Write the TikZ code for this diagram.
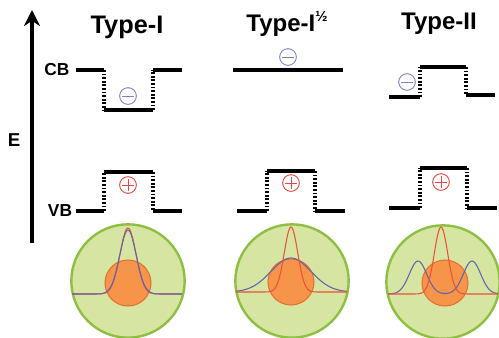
\documentclass[tikz,border=0pt]{standalone}
\usepackage{fontspec}
\setmainfont{Liberation Sans}
\usetikzlibrary{arrows.meta}

\definecolor{shellfill}{RGB}{214,230,162}
\definecolor{shelledge}{RGB}{141,192,66}
\definecolor{corefill}{RGB}{246,148,74}
\definecolor{coreedge}{RGB}{230,112,52}
\definecolor{elblue}{RGB}{128,128,196}
\definecolor{hlred}{RGB}{226,70,60}
\definecolor{wfblue}{RGB}{98,100,172}
\definecolor{wfred}{RGB}{232,84,56}

\begin{document}
\begin{tikzpicture}[
    x=0.75pt, y=-0.75pt,
    title/.style={font=\fontsize{18}{20}\selectfont\bfseries},
    label/.style={font=\fontsize{13}{15}\selectfont\bfseries, inner sep=0pt},
    band/.style={line width=3pt},
    wall/.style={line width=2.3pt, dash pattern=on 1.4pt off 1.3pt},
    electron/.style={circle, draw=elblue, line width=0.7pt, minimum size=12.5pt, inner sep=0pt,
        path picture={\draw[elblue, line width=0.7pt] ([xshift=-4.2pt]path picture bounding box.center) -- ([xshift=4.2pt]path picture bounding box.center);}},
    hole/.style={circle, draw=hlred, line width=0.7pt, minimum size=12.5pt, inner sep=0pt,
        path picture={\draw[hlred, line width=0.7pt] ([xshift=-4.2pt]path picture bounding box.center) -- ([xshift=4.2pt]path picture bounding box.center)
            ([yshift=-4.2pt]path picture bounding box.center) -- ([yshift=4.2pt]path picture bounding box.center);}},
    shell/.style={circle, fill=shellfill, draw=shelledge, line width=1.8pt, minimum size=85pt, inner sep=0pt},
    core/.style={circle, fill=corefill, draw=coreedge, line width=0.8pt, minimum size=34.5pt, inner sep=0pt},
    redwf/.style={wfred, line width=0.8pt},
    bluewf/.style={wfblue, line width=0.8pt}
]
\useasboundingbox (0,0) rectangle (499,337);

% Energy axis
\coordinate (ebot) at (32,243);
\coordinate (etop) at (32,10);
\draw[line width=3pt, -{Stealth[length=12pt, width=12pt]}] (ebot) -- (etop);
\node[font=\fontsize{14}{16}\selectfont\bfseries] (elabel) at (14,140) {E};
\node[label] (cb) at (57,70) {CB};
\node[label] (vb) at (60,211) {VB};

% Titles
\node[title, font=\fontsize{19}{21}\selectfont\bfseries] (t1) at (127,27) {Type-I};
\node[title] (t2) at (287,24) {Type-I\raisebox{0.42em}{\fontsize{11}{11}\selectfont ½}};
\node[title] (t3) at (439,24) {Type-II};

% Type-I bands
\draw[band] (76,70) -- (104,70);
\draw[wall] (104,70) -- (104,110);
\draw[line width=2.5pt] (104,110) -- (153,110);
\draw[wall] (153,110) -- (153,70);
\draw[band] (153,70) -- (182,70);
\draw[band] (76,211) -- (104,211);
\draw[wall] (104,211) -- (104,172);
\draw[band] (104,172) -- (153,172);
\draw[wall] (153,172) -- (153,211);
\draw[band] (153,211) -- (182,211);
\node[electron] (e1) at (128,96) {};
\node[hole] (h1) at (128,185) {};

% Type-I 1/2 bands
\draw[band] (233,70) -- (343,70);
\draw[band] (237,211) -- (267,211);
\draw[wall] (267,211) -- (267,171);
\draw[band] (267,171) -- (315,171);
\draw[wall] (315,171) -- (315,211);
\draw[band] (315,211) -- (345,211);
\node[electron] (e2) at (288,57) {};
\node[hole] (h2) at (291,183) {};

% Type-II bands
\draw[band] (389,97) -- (420,97);
\draw[wall] (420,97) -- (420,67);
\draw[band] (420,67) -- (466,67);
\draw[wall] (466,67) -- (466,95);
\draw[band] (466,95) -- (495,95);
\draw[band] (389,208) -- (420,208);
\draw[wall] (420,208) -- (420,168);
\draw[band] (420,168) -- (467,168);
\draw[wall] (467,168) -- (467,208);
\draw[band] (467,208) -- (497,208);
\node[electron] (e3) at (407,82) {};
\node[hole] (h3) at (441,182) {};

% Core/shell particles
\node[shell] (s1) at (128,281) {};
\node[core] (c1) at (128,283) {};
\node[shell] (s2) at (292,281) {};
\node[core] (c2) at (291,282) {};
\node[shell] (s3) at (443,282) {};
\node[core] (c3) at (445,283) {};

% Wavefunctions
\draw[redwf] plot[domain=72:182, samples=90] (\x, {294-66*exp(-((\x-128)^2)/128)});
\draw[bluewf] plot[domain=72:182, samples=90] (\x, {294-64*exp(-((\x-128)^2)/136)});
\draw[bluewf] plot[domain=236:347, samples=90] (\x, {292-34*exp(-((\x-291)^2)/800)});
\draw[redwf] plot[domain=236:347, samples=90] (\x, {292-65*exp(-((\x-291)^2)/90)});
\draw[bluewf] plot[domain=388:498, samples=90] (\x, {294-33*exp(-((\x-418)^2)/150)-33*exp(-((\x-472)^2)/150)});
\draw[redwf] plot[domain=388:498, samples=90] (\x, {294-67*exp(-((\x-441)^2)/90)});

\end{tikzpicture}
\end{document}
